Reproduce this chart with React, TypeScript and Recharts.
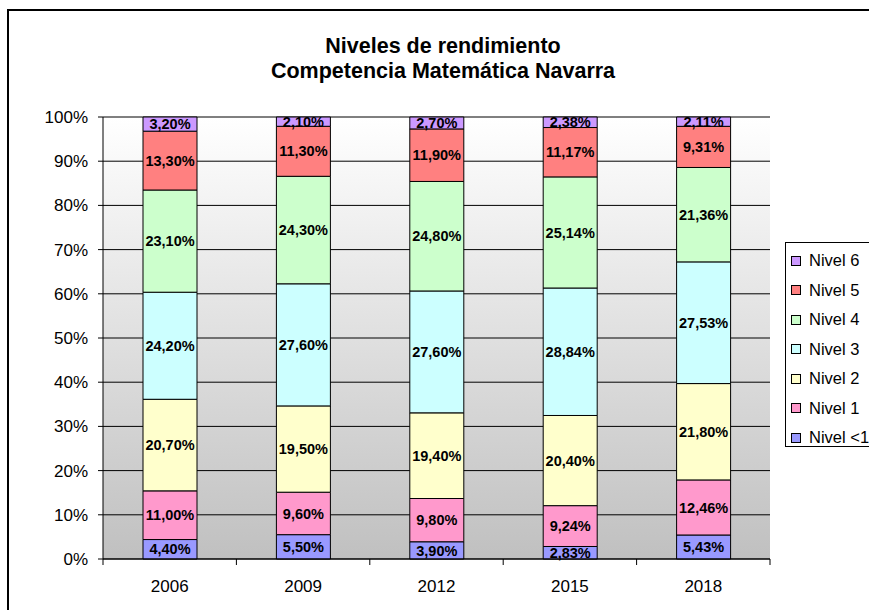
import { BarChart, Bar, XAxis, YAxis, CartesianGrid, LabelList } from 'recharts'

const years = ['2006', '2009', '2012', '2015', '2018']
const nivelMenos1 = [4.4, 5.5, 3.9, 2.83, 5.43]
const nivel1 = [11.0, 9.6, 9.8, 9.24, 12.46]
const nivel2 = [20.7, 19.5, 19.4, 20.4, 21.8]
const nivel3 = [24.2, 27.6, 27.6, 28.84, 27.53]
const nivel4 = [23.1, 24.3, 24.8, 25.14, 21.36]
const nivel5 = [13.3, 11.3, 11.9, 11.17, 9.31]
const nivel6 = [3.2, 2.1, 2.7, 2.38, 2.11]
const yTicks = [0, 0.1, 0.2, 0.3, 0.4, 0.5, 0.6, 0.7, 0.8, 0.9, 1]

const series = [
  { key: 'n0', name: 'Nivel <1', values: nivelMenos1, color: '#9999ff' },
  { key: 'n1', name: 'Nivel 1', values: nivel1, color: '#ff99cc' },
  { key: 'n2', name: 'Nivel 2', values: nivel2, color: '#ffffcc' },
  { key: 'n3', name: 'Nivel 3', values: nivel3, color: '#ccffff' },
  { key: 'n4', name: 'Nivel 4', values: nivel4, color: '#ccffcc' },
  { key: 'n5', name: 'Nivel 5', values: nivel5, color: '#ff8080' },
  { key: 'n6', name: 'Nivel 6', values: nivel6, color: '#cc99ff' },
]

const data = years.map((year, i) => {
  const row: Record<string, string | number> = { year }
  series.forEach((s) => (row[s.key] = s.values[i]))
  return row
})

const W = 869
const H = 610
const M = { top: 117, right: 99, left: 43, bottom: 0 }
const Y_W = 60
const X_H = 51
const band = (W - M.left - Y_W - M.right) / years.length
const font = '"Liberation Sans", Arial, sans-serif'

const fmt = (v: any) => Number(v).toFixed(2).replace('.', ',') + '%'

const XTick = (props: any) => {
  const { x, y, payload, index } = props
  return (
    <g>
      <line x1={x - band / 2} x2={x - band / 2} y1={y} y2={y + 6} stroke="#000" />
      {index === years.length - 1 && (
        <line x1={x + band / 2} x2={x + band / 2} y1={y} y2={y + 6} stroke="#000" />
      )}
      <text x={x} y={y + 33} textAnchor="middle" fontSize={17} fill="#000" fontFamily={font}>
        {payload.value}
      </text>
    </g>
  )
}

export default function App() {
  return (
    <div
      style={{
        position: 'absolute',
        left: 0,
        top: 0,
        width: W,
        height: H,
        overflow: 'hidden',
        background: '#fff',
        fontFamily: font,
      }}
    >
      <svg width={0} height={0} style={{ position: 'absolute' }}>
        <defs>
          <linearGradient id="plotBg" x1="0" y1="0" x2="0" y2="1">
            <stop offset="0%" stopColor="#ffffff" />
            <stop offset="100%" stopColor="#c0c0c0" />
          </linearGradient>
        </defs>
      </svg>
      <div
        style={{
          position: 'absolute',
          left: 7,
          top: 9,
          width: 1000,
          height: 800,
          border: '2px solid #000',
        }}
      />
      <svg width={W} height={100} style={{ position: 'absolute', left: 0, top: 0 }}>
        <text x={443} y={52.5} textAnchor="middle" fontSize={21.5} fontWeight="bold" fontFamily={font}>
          Niveles de rendimiento
        </text>
        <text x={443} y={77.5} textAnchor="middle" fontSize={21.5} fontWeight="bold" fontFamily={font}>
          Competencia Matemática Navarra
        </text>
      </svg>
      <div style={{ position: 'absolute', left: 0, top: 0 }}>
        <BarChart width={W} height={H} data={data} margin={M} stackOffset="expand" barSize={54}>
          <CartesianGrid vertical={false} stroke="#000" fill="url(#plotBg)" fillOpacity={1} />
          <XAxis
            dataKey="year"
            height={X_H}
            axisLine={{ stroke: '#000' }}
            tickLine={false}
            tickSize={0}
            tickMargin={0}
            tick={<XTick />}
            interval={0}
          />
          <XAxis
            xAxisId="top"
            dataKey="year"
            orientation="top"
            height={0}
            axisLine={{ stroke: '#808080' }}
            tick={false}
            tickLine={false}
          />
          <YAxis
            width={Y_W}
            domain={[0, 1]}
            ticks={yTicks}
            interval={0}
            tickFormatter={(v: number) => `${Math.round(v * 100)}%`}
            axisLine={{ stroke: '#000' }}
            tickLine={{ stroke: '#000' }}
            tickSize={5}
            tickMargin={10}
            tick={{ fill: '#000', fontSize: 17, fontFamily: font }}
          />
          <YAxis
            yAxisId="right"
            orientation="right"
            width={0}
            domain={[0, 1]}
            axisLine={{ stroke: '#808080' }}
            tick={false}
            tickLine={false}
          />
          {series.map((s) => (
            <Bar
              key={s.key}
              dataKey={s.key}
              name={s.name}
              stackId="a"
              fill={s.color}
              stroke="#000"
              strokeWidth={1}
              isAnimationActive={false}
            >
              <LabelList
                dataKey={s.key}
                position="center"
                formatter={fmt}
                fill="#000"
                fontSize={14.5}
                fontWeight="bold"
                fontFamily={font}
              />
            </Bar>
          ))}
        </BarChart>
      </div>
      <div
        style={{
          position: 'absolute',
          left: 785,
          top: 242,
          width: 120,
          height: 205,
          border: '1px solid #000',
          background: '#fff',
          boxSizing: 'border-box',
          paddingTop: 3,
        }}
      >
        {[...series].reverse().map((s) => (
          <div key={s.key} style={{ height: 29.5, display: 'flex', alignItems: 'center' }}>
            <span
              style={{
                display: 'inline-block',
                width: 10,
                height: 10,
                boxSizing: 'border-box',
                border: '1px solid #000',
                background: s.color,
                marginLeft: 5,
                marginRight: 8,
              }}
            />
            <span style={{ fontSize: 16.5, color: '#000' }}>{s.name}</span>
          </div>
        ))}
      </div>
    </div>
  )
}
